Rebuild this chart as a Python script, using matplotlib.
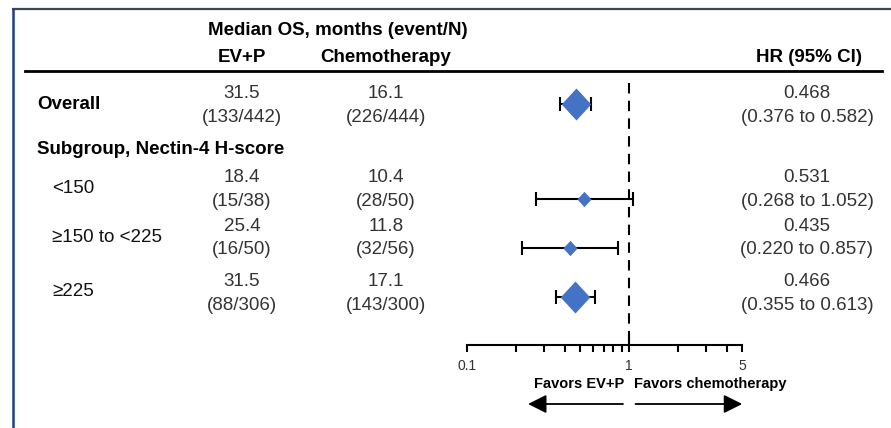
import numpy as np
import matplotlib
matplotlib.use('Agg')
import matplotlib.pyplot as plt
from matplotlib.ticker import FixedLocator, NullFormatter

plt.rcParams['font.family'] = ['Liberation Sans', 'DejaVu Sans']

# subgroup table
rows = ['Overall', '<150', '≥150 to <225', '≥225']
ev_median = ['31.5', '18.4', '25.4', '31.5']
ev_events = ['(133/442)', '(15/38)', '(16/50)', '(88/306)']
chemo_median = ['16.1', '10.4', '11.8', '17.1']
chemo_events = ['(226/444)', '(28/50)', '(32/56)', '(143/300)']
hr = [0.468, 0.531, 0.435, 0.466]
hr_lo = [0.376, 0.268, 0.220, 0.355]
hr_hi = [0.582, 1.052, 0.857, 0.613]
big_marker = [True, False, False, True]

W, H = 891, 428
fig = plt.figure(figsize=(W/100, H/100), dpi=100)

# overlay axes in pixel units for the table text and frame
tx = fig.add_axes([0, 0, 1, 1])
tx.set_xlim(0, W)
tx.set_ylim(H, 0)
tx.axis('off')

# frame
tx.plot([12, W], [9, 9], color='#3b4658', lw=1.6, solid_capstyle='butt')
tx.plot([12.5, 12.5], [8, H], color='#1f3c88', lw=1.8, solid_capstyle='butt')
# header rule
tx.plot([25, 882], [71, 71], color='black', lw=2.0)

fs = 13.5
body = '#333333'
tx.text(338, 30, 'Median OS, months (event/N)', ha='center', va='center', fontsize=fs, fontweight='bold')
tx.text(242, 57, 'EV+P', ha='center', va='center', fontsize=fs, fontweight='bold')
tx.text(386, 57, 'Chemotherapy', ha='center', va='center', fontsize=fs, fontweight='bold')
tx.text(862, 57, 'HR (95% CI)', ha='right', va='center', fontsize=fs, fontweight='bold')
tx.text(37, 150, 'Subgroup, Nectin-4 H-score', ha='left', va='center', fontsize=fs, fontweight='bold')

row_y = [104, 199, 248, 297]
top_y = [93, 177, 226, 281]
for i in range(len(rows)):
    if i == 0:
        tx.text(37, row_y[i], rows[i], ha='left', va='center', fontsize=fs, fontweight='bold')
    else:
        tx.text(52, top_y[i] + 11, rows[i], ha='left', va='center', fontsize=fs, color='#111111')
    tx.text(242, top_y[i], ev_median[i], ha='center', va='center', fontsize=fs, color=body)
    tx.text(242, top_y[i] + 24, ev_events[i], ha='center', va='center', fontsize=fs, color=body)
    tx.text(386, top_y[i], chemo_median[i], ha='center', va='center', fontsize=fs, color=body)
    tx.text(386, top_y[i] + 24, chemo_events[i], ha='center', va='center', fontsize=fs, color=body)
    tx.text(807, top_y[i], f'{hr[i]:.3f}', ha='center', va='center', fontsize=fs, color=body)
    tx.text(807, top_y[i] + 24, f'({hr_lo[i]:.3f} to {hr_hi[i]:.3f})', ha='center', va='center',
            fontsize=fs, color=body)

# forest plot on log scale
x0, x1 = 467, 629 + 162*np.log10(5)
ax = fig.add_axes([x0/W, 0, (x1 - x0)/W, 1])
ax.set_xscale('log')
ax.set_xlim(0.1, 5)
ax.set_ylim(H, 0)
ax.patch.set_alpha(0)
for s in ['top', 'right', 'left']:
    ax.spines[s].set_visible(False)
ax.spines['bottom'].set_position(('data', 345))
ax.spines['bottom'].set_linewidth(1.5)
ax.set_yticks([])
ax.xaxis.set_major_locator(FixedLocator([0.1, 1, 5]))
ax.xaxis.set_minor_locator(FixedLocator([0.2, 0.3, 0.4, 0.5, 0.6, 0.7, 0.8, 0.9, 2, 3, 4]))
ax.xaxis.set_minor_formatter(NullFormatter())
ax.set_xticklabels(['0.1', '1', '5'])
ax.tick_params(axis='x', which='both', direction='out', length=5, width=1.5, labelsize=10,
               labelcolor='#333333', pad=5)

ax.plot([1, 1], [83, 345], color='black', lw=1.5, linestyle=(0, (5, 3.5)))
ax.plot([1, 1], [336, 345], color='black', lw=1.5)

diamond = [(-1, 0), (0, 1.08), (1, 0), (0, -1.08), (-1, 0)]
for i in range(len(hr)):
    ax.errorbar(hr[i], row_y[i], xerr=[[hr[i] - hr_lo[i]], [hr_hi[i] - hr[i]]], fmt='none',
                ecolor='black', elinewidth=1.5, capsize=5, capthick=1.5, zorder=2)
    ax.plot(hr[i], row_y[i], marker=diamond, markersize=23 if big_marker[i] else 11,
            color='#4472c4', markeredgewidth=0, linestyle='none', zorder=3)

# direction labels and arrows under the axis
ax.text(0.94, 384, 'Favors EV+P', ha='right', va='center', fontsize=10.5, fontweight='bold')
ax.text(1.07, 384, 'Favors chemotherapy', ha='left', va='center', fontsize=10.5, fontweight='bold')
arrow = dict(arrowstyle='-|>,head_length=0.8,head_width=0.4', mutation_scale=14, lw=1.3,
             color='black', shrinkA=0, shrinkB=0)
ax.annotate('', xy=(0.238, 404), xytext=(0.918, 404), arrowprops=arrow, annotation_clip=False)
ax.annotate('', xy=(5, 404), xytext=(1.097, 404), arrowprops=arrow, annotation_clip=False)

fig.savefig('out.png', dpi=100)
